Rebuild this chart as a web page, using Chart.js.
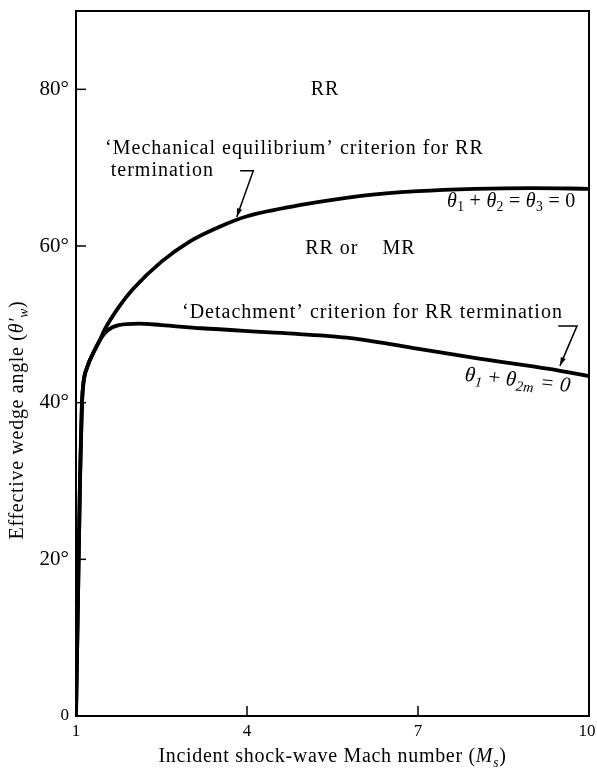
<!DOCTYPE html>
<html>
<head>
<meta charset="utf-8">
<script src="https://cdn.jsdelivr.net/npm/chart.js@4.4.1/dist/chart.umd.min.js"></script>
<style>
  html, body { margin: 0; padding: 0; background: #fff; }
  canvas { display: block; }
</style>
</head>
<body>
<canvas id="rrChart" width="597" height="772"></canvas>
<script>
// curve values (Mach number vs effective wedge angle, degrees)
var mechMach  = [1, 1.035, 1.07, 1.09, 1.105, 1.13, 1.2, 1.3, 1.42, 1.5, 1.75, 2, 2.5, 3, 3.5, 4, 5, 6, 7, 8, 9, 10];
var mechAngle = [0, 15, 30, 36, 40, 42.5, 44.6, 46.3, 48.0, 49.3, 52.2, 54.5, 58.0, 60.6, 62.4, 63.8, 65.3, 66.4, 67.0, 67.3, 67.4, 67.3];

var detMach  = [1, 1.035, 1.07, 1.09, 1.105, 1.13, 1.2, 1.3, 1.42, 1.55, 1.75, 2.1, 2.5, 3.2, 4.6, 5.75, 6.9, 8.1, 9.3, 10];
var detAngle = [0, 15, 30, 36, 40, 42.5, 44.6, 46.3, 48.0, 49.2, 49.9, 50.1, 49.9, 49.5, 48.9, 48.3, 47.0, 45.6, 44.3, 43.4];

var xTicks = [1, 4, 7, 10];
var yTicks = [0, 20, 40, 60, 80];
var yTickLabels = ['0', '20°', '40°', '60°', '80°'];

var serif = '"Liberation Serif", "Times New Roman", serif';

function toPoints(xs, ys) {
  var pts = [];
  for (var i in xs) {
    pts.push({x: xs[i], y: ys[i]});
  }
  return pts;
}

// draws a run of text pieces (italic / subscript) starting at x, middle at y
function partsWidth(ctx, parts, size) {
  var w = 0;
  parts.forEach(function(p) {
    var fs = p.sub ? size * 0.68 : size;
    ctx.font = (p.it ? 'italic ' : '') + fs + 'px ' + serif;
    w += ctx.measureText(p.t).width;
  });
  return w;
}
function drawParts(ctx, parts, x, y, size) {
  var cx = x;
  parts.forEach(function(p) {
    var fs = p.sub ? size * 0.68 : size;
    ctx.font = (p.it ? 'italic ' : '') + fs + 'px ' + serif;
    ctx.fillText(p.t, cx, y + (p.sub ? size * 0.3 : 0));
    cx += ctx.measureText(p.t).width;
  });
}

var annotations = {
  id: 'annotations',
  afterDraw: function(chart) {
    var ctx = chart.ctx;
    var xs = chart.scales.x, ys = chart.scales.y;
    var area = chart.chartArea;
    function px(v) { return xs.getPixelForValue(v); }
    function py(v) { return ys.getPixelForValue(v); }

    ctx.save();
    ctx.strokeStyle = '#000';
    ctx.fillStyle = '#000';

    // top and right frame lines
    ctx.lineWidth = 2;
    ctx.beginPath();
    ctx.moveTo(area.left, area.top);
    ctx.lineTo(area.right, area.top);
    ctx.lineTo(area.right, area.bottom);
    ctx.stroke();

    // inward tick marks
    ctx.lineWidth = 1.5;
    yTicks.forEach(function(v) {
      if (v === 0) return;
      ctx.beginPath();
      ctx.moveTo(area.left, py(v));
      ctx.lineTo(area.left + 10, py(v));
      ctx.stroke();
    });
    xTicks.forEach(function(v) {
      if (v === 1 || v === 10) return;
      ctx.beginPath();
      ctx.moveTo(px(v), area.bottom);
      ctx.lineTo(px(v), area.bottom - 10);
      ctx.stroke();
    });

    // region labels and curve labels
    ctx.textBaseline = 'middle';
    ctx.letterSpacing = '1px';
    ctx.font = '20px ' + serif;
    ctx.textAlign = 'center';
    ctx.fillText('RR', px(5.37), py(80));
    ctx.textAlign = 'left';
    ctx.fillText('\u2018Mechanical equilibrium\u2019 criterion for RR', px(1.51), py(72.4));
    ctx.fillText('termination', px(1.61), py(69.6));
    ctx.fillText('RR or    MR', px(5.02), py(59.7));
    ctx.fillText('\u2018Detachment\u2019 criterion for RR termination', px(2.86), py(51.5));

    // equations
    ctx.letterSpacing = '0.3px';
    drawParts(ctx, [
      {t: '\u03b8', it: true}, {t: '1', sub: true}, {t: ' + '},
      {t: '\u03b8', it: true}, {t: '2', sub: true}, {t: ' = '},
      {t: '\u03b8', it: true}, {t: '3', sub: true}, {t: ' = 0'}
    ], px(7.51), py(65.7), 20);

    var eq2 = [
      {t: '\u03b8', it: true}, {t: '1', sub: true, it: true}, {t: ' + '},
      {t: '\u03b8', it: true}, {t: '2m', sub: true, it: true}, {t: ' = 0', it: true}
    ];
    ctx.save();
    ctx.translate(px(8.75), py(42.8));
    ctx.rotate(6 * Math.PI / 180);
    drawParts(ctx, eq2, -partsWidth(ctx, eq2, 21) / 2, 0, 21);
    ctx.restore();

    // pointer arrows
    function arrow(x0, y0, x1, y1, x2, y2) {
      ctx.lineWidth = 1.5;
      ctx.beginPath();
      ctx.moveTo(px(x0), py(y0));
      ctx.lineTo(px(x1), py(y1));
      ctx.lineTo(px(x2), py(y2));
      ctx.stroke();
      var ang = Math.atan2(py(y2) - py(y1), px(x2) - px(x1));
      ctx.beginPath();
      ctx.moveTo(px(x2), py(y2));
      ctx.lineTo(px(x2) - 9 * Math.cos(ang - 0.3), py(y2) - 9 * Math.sin(ang - 0.3));
      ctx.lineTo(px(x2) - 9 * Math.cos(ang + 0.3), py(y2) - 9 * Math.sin(ang + 0.3));
      ctx.closePath();
      ctx.fill();
    }
    arrow(3.88, 69.6, 4.11, 69.6, 3.82, 63.7);
    arrow(9.46, 49.8, 9.79, 49.8, 9.49, 44.7);

    // axis titles
    ctx.letterSpacing = '0.7px';
    var xTitle = [
      {t: 'Incident shock-wave Mach number ('}, {t: 'M', it: true}, {t: 's', it: true, sub: true}, {t: ')'}
    ];
    var xw = partsWidth(ctx, xTitle, 20);
    drawParts(ctx, xTitle, (area.left + area.right) / 2 - xw / 2, 757, 20);

    var yTitle = [
      {t: 'Effective wedge angle ('}, {t: '\u03b8\u2032', it: true}, {t: 'w', it: true, sub: true}, {t: ')'}
    ];
    var yw = partsWidth(ctx, yTitle, 20);
    ctx.save();
    ctx.translate(18, 420);
    ctx.rotate(-Math.PI / 2);
    drawParts(ctx, yTitle, -yw / 2, 0, 20);
    ctx.restore();

    ctx.restore();
  }
};

// data pertaining to the graph
var ctx = document.getElementById('rrChart');
var rrChart = new Chart(ctx, {
  type: 'line',
  data: {
    datasets: [{
      label: 'Mechanical equilibrium',
      data: toPoints(mechMach, mechAngle),
      borderColor: '#000',
      borderWidth: 3.8,
      pointRadius: 0,
      cubicInterpolationMode: 'monotone',
      fill: false
    }, {
      label: 'Detachment',
      data: toPoints(detMach, detAngle),
      borderColor: '#000',
      borderWidth: 3.8,
      pointRadius: 0,
      cubicInterpolationMode: 'monotone',
      fill: false
    }]
  },
  options: {
    responsive: false,
    devicePixelRatio: 1,
    animation: false,
    layout: { padding: { top: 11, right: 8, left: 0, bottom: 0 } },
    plugins: {
      legend: { display: false },
      tooltip: { enabled: false }
    },
    scales: {
      x: {
        type: 'linear',
        min: 1,
        max: 10,
        afterBuildTicks: function(scale) {
          scale.ticks = xTicks.map(function(v) { return {value: v}; });
        },
        afterFit: function(scale) {
          scale.height = 56;
          scale.paddingLeft = 0;
          scale.paddingRight = 0;
        },
        ticks: {
          color: '#000',
          font: { family: serif, size: 17 },
          padding: 5,
          maxRotation: 0,
          autoSkip: false,
          callback: function(v) { return v === 10 ? '10 ' : String(v); }
        },
        grid: { drawOnChartArea: false, drawTicks: false, color: 'rgba(0,0,0,0)' },
        border: { display: true, color: '#000', width: 2 }
      },
      y: {
        type: 'linear',
        min: 0,
        max: 90,
        afterBuildTicks: function(scale) {
          scale.ticks = yTicks.map(function(v) { return {value: v}; });
        },
        afterFit: function(scale) {
          scale.width = 76;
          scale.paddingTop = 0;
          scale.paddingBottom = 0;
        },
        ticks: {
          color: '#000',
          font: function(c) {
            return { family: serif, size: (c.tick && c.tick.value === 0) ? 17 : 21 };
          },
          padding: 7,
          autoSkip: false,
          callback: function(v) { return yTickLabels[yTicks.indexOf(v)]; }
        },
        grid: { drawOnChartArea: false, drawTicks: false, color: 'rgba(0,0,0,0)' },
        border: { display: true, color: '#000', width: 2 }
      }
    }
  },
  plugins: [annotations]
});
</script>
</body>
</html>
